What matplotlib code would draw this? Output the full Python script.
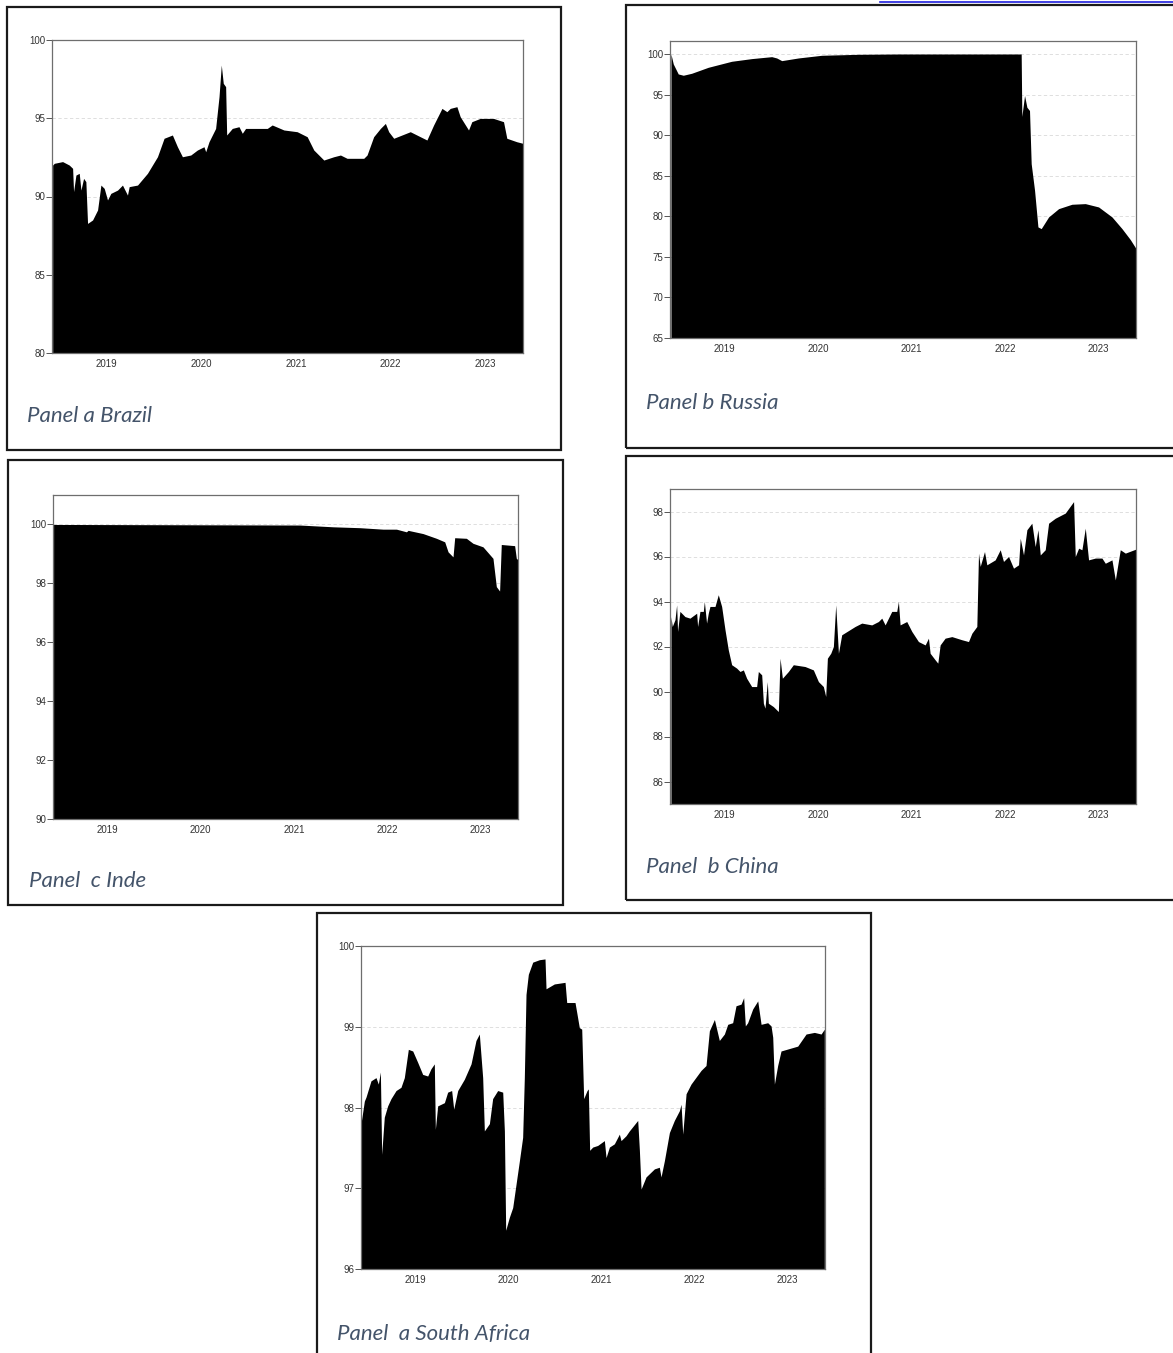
import matplotlib
matplotlib.use("Agg")
import matplotlib.pyplot as plt
from matplotlib.patches import Rectangle
from matplotlib.lines import Line2D

# ---- data (decimal years, index values) ----
brazil_t = [2018.427, 2018.444, 2018.532, 2018.602, 2018.638, 2018.648, 2018.673, 2018.708,
            2018.726, 2018.754, 2018.778, 2018.796, 2018.849, 2018.902, 2018.937, 2018.972,
            2019.007, 2019.042, 2019.113, 2019.165, 2019.218, 2019.236, 2019.324, 2019.429,
            2019.535, 2019.605, 2019.693, 2019.746, 2019.799, 2019.887, 2019.957, 2020.027,
            2020.045, 2020.080, 2020.150, 2020.186, 2020.210, 2020.231, 2020.256, 2020.267,
            2020.326, 2020.397, 2020.432, 2020.467, 2020.696, 2020.748, 2020.872, 2021.012,
            2021.118, 2021.188, 2021.294, 2021.399, 2021.470, 2021.540, 2021.716, 2021.751,
            2021.821, 2021.892, 2021.945, 2021.980, 2022.033, 2022.208, 2022.314, 2022.384,
            2022.455, 2022.543, 2022.595, 2022.631, 2022.701, 2022.736, 2022.824, 2022.859,
            2022.947, 2023.088, 2023.194, 2023.229, 2023.334, 2023.398]
brazil_v = [92.01, 92.12, 92.23, 92.01, 91.80, 90.31, 91.37, 91.48,
            90.41, 91.16, 90.95, 88.28, 88.50, 89.14, 90.73, 90.52,
            89.78, 90.20, 90.41, 90.73, 90.09, 90.63, 90.73, 91.48,
            92.54, 93.72, 93.93, 93.18, 92.54, 92.65, 92.97, 93.18,
            92.86, 93.50, 94.35, 96.38, 98.40, 97.23, 97.02, 93.93,
            94.35, 94.46, 94.04, 94.35, 94.35, 94.57, 94.25, 94.14,
            93.82, 92.97, 92.33, 92.54, 92.65, 92.44, 92.44, 92.65,
            93.82, 94.35, 94.67, 94.14, 93.72, 94.14, 93.82, 93.61,
            94.57, 95.63, 95.42, 95.63, 95.74, 95.10, 94.25, 94.78,
            94.99, 94.99, 94.78, 93.72, 93.50, 93.40]

russia_t = [2018.430, 2018.455, 2018.508, 2018.562, 2018.651, 2018.829, 2019.079, 2019.293,
            2019.507, 2019.560, 2019.614, 2019.792, 2020.041, 2020.434, 2020.861, 2022.173,
            2022.180, 2022.209, 2022.234, 2022.262, 2022.280, 2022.316, 2022.352, 2022.387,
            2022.466, 2022.573, 2022.715, 2022.858, 2023.000, 2023.143, 2023.250, 2023.339,
            2023.400]
russia_v = [100.0, 98.77, 97.54, 97.38, 97.62, 98.36, 99.10, 99.43,
            99.67, 99.51, 99.18, 99.51, 99.84, 99.96, 100.0, 100.0,
            92.30, 94.88, 93.44, 93.03, 86.48, 83.20, 78.69, 78.48,
            79.92, 80.94, 81.48, 81.56, 81.15, 79.92, 78.48, 77.13,
            76.02]

india_t = [2018.426, 2021.064, 2021.421, 2021.706, 2021.955, 2022.098, 2022.205, 2022.223,
           2022.383, 2022.526, 2022.615, 2022.651, 2022.704, 2022.722, 2022.847, 2022.918,
           2023.025, 2023.132, 2023.168, 2023.203, 2023.221, 2023.364, 2023.382, 2023.400]
india_v = [100.0, 99.98, 99.92, 99.89, 99.84, 99.84, 99.75, 99.80,
           99.69, 99.53, 99.41, 99.07, 98.90, 99.55, 99.53, 99.36,
           99.24, 98.85, 97.89, 97.74, 99.32, 99.28, 98.85, 98.80]

china_t = [2018.430, 2018.444, 2018.473, 2018.491, 2018.501, 2018.526, 2018.580, 2018.633,
           2018.705, 2018.715, 2018.740, 2018.776, 2018.787, 2018.811, 2018.829, 2018.847,
           2018.901, 2018.936, 2018.972, 2019.008, 2019.043, 2019.079, 2019.132, 2019.168,
           2019.204, 2019.239, 2019.293, 2019.346, 2019.364, 2019.400, 2019.418, 2019.435,
           2019.460, 2019.471, 2019.524, 2019.578, 2019.596, 2019.621, 2019.685, 2019.738,
           2019.863, 2019.952, 2020.006, 2020.059, 2020.084, 2020.102, 2020.138, 2020.166,
           2020.191, 2020.220, 2020.255, 2020.398, 2020.469, 2020.576, 2020.647, 2020.683,
           2020.719, 2020.790, 2020.843, 2020.861, 2020.879, 2020.950, 2021.004, 2021.075,
           2021.147, 2021.182, 2021.200, 2021.253, 2021.282, 2021.307, 2021.360, 2021.432,
           2021.539, 2021.610, 2021.646, 2021.699, 2021.717, 2021.735, 2021.781, 2021.806,
           2021.895, 2021.949, 2021.984, 2022.038, 2022.091, 2022.145, 2022.163, 2022.198,
           2022.234, 2022.287, 2022.323, 2022.352, 2022.377, 2022.430, 2022.466, 2022.537,
           2022.644, 2022.733, 2022.751, 2022.787, 2022.822, 2022.858, 2022.893, 2022.965,
           2023.036, 2023.072, 2023.143, 2023.179, 2023.232, 2023.286, 2023.400]
china_v = [93.33, 92.89, 93.19, 93.85, 92.67, 93.56, 93.33, 93.26,
           93.48, 92.89, 93.56, 93.56, 94.00, 93.04, 93.48, 93.78,
           93.78, 94.30, 93.78, 92.74, 91.85, 91.19, 91.04, 90.89,
           90.96, 90.59, 90.22, 90.22, 90.89, 90.74, 89.48, 89.26,
           90.44, 89.48, 89.33, 89.11, 91.48, 90.59, 90.89, 91.19,
           91.11, 90.96, 90.44, 90.22, 89.78, 91.48, 91.70, 92.00,
           93.85, 91.70, 92.52, 92.89, 93.04, 92.96, 93.11, 93.26,
           92.96, 93.56, 93.56, 94.00, 92.96, 93.11, 92.67, 92.22,
           92.07, 92.37, 91.70, 91.41, 91.26, 92.07, 92.37, 92.44,
           92.30, 92.22, 92.59, 92.89, 96.15, 95.56, 96.22, 95.63,
           95.85, 96.30, 95.78, 96.00, 95.48, 95.63, 96.81, 96.07,
           97.19, 97.48, 96.44, 97.19, 96.07, 96.30, 97.48, 97.70,
           97.93, 98.44, 96.00, 96.37, 96.30, 97.26, 95.85, 95.93,
           95.93, 95.70, 95.85, 94.96, 96.30, 96.15, 96.33]

safrica_t = [2018.420, 2018.456, 2018.474, 2018.527, 2018.581, 2018.606, 2018.628, 2018.642,
             2018.670, 2018.706, 2018.742, 2018.796, 2018.849, 2018.885, 2018.928, 2018.975,
             2019.028, 2019.082, 2019.136, 2019.171, 2019.207, 2019.218, 2019.243, 2019.315,
             2019.350, 2019.393, 2019.415, 2019.458, 2019.529, 2019.601, 2019.654, 2019.690,
             2019.726, 2019.744, 2019.798, 2019.833, 2019.887, 2019.941, 2019.959, 2019.973,
             2020.012, 2020.048, 2020.084, 2020.120, 2020.155, 2020.173, 2020.191, 2020.216,
             2020.263, 2020.334, 2020.395, 2020.406, 2020.495, 2020.610, 2020.628, 2020.717,
             2020.738, 2020.763, 2020.789, 2020.810, 2020.846, 2020.860, 2020.874, 2020.907,
             2020.960, 2021.032, 2021.050, 2021.086, 2021.139, 2021.193, 2021.211, 2021.264,
             2021.300, 2021.390, 2021.408, 2021.426, 2021.479, 2021.569, 2021.622, 2021.640,
             2021.676, 2021.730, 2021.783, 2021.837, 2021.855, 2021.873, 2021.909, 2021.962,
             2022.070, 2022.123, 2022.159, 2022.213, 2022.266, 2022.320, 2022.356, 2022.409,
             2022.445, 2022.499, 2022.527, 2022.545, 2022.570, 2022.624, 2022.678, 2022.714,
             2022.785, 2022.821, 2022.839, 2022.857, 2022.892, 2022.928, 2023.107, 2023.197,
             2023.286, 2023.358, 2023.393]
safrica_v = [97.80, 98.08, 98.13, 98.33, 98.37, 98.29, 98.44, 97.42,
             97.88, 98.02, 98.11, 98.21, 98.25, 98.37, 98.72, 98.70,
             98.56, 98.41, 98.39, 98.48, 98.54, 97.73, 98.02, 98.06,
             98.19, 98.21, 97.98, 98.21, 98.35, 98.54, 98.83, 98.91,
             98.37, 97.71, 97.80, 98.11, 98.21, 98.19, 97.71, 96.48,
             96.64, 96.76, 97.05, 97.34, 97.63, 98.37, 99.40, 99.65,
             99.80, 99.83, 99.84, 99.47, 99.53, 99.55, 99.30, 99.30,
             99.16, 98.99, 98.97, 98.11, 98.21, 98.23, 97.47, 97.51,
             97.53, 97.59, 97.38, 97.51, 97.55, 97.67, 97.59, 97.65,
             97.71, 97.84, 97.47, 96.99, 97.14, 97.24, 97.26, 97.14,
             97.34, 97.69, 97.84, 97.96, 98.04, 97.67, 98.17, 98.29,
             98.46, 98.52, 98.95, 99.09, 98.83, 98.91, 99.03, 99.05,
             99.26, 99.28, 99.36, 99.01, 99.05, 99.22, 99.32, 99.03,
             99.05, 99.01, 98.87, 98.29, 98.52, 98.70, 98.76, 98.91,
             98.93, 98.91, 98.97]

years = [2019, 2020, 2021, 2022, 2023]
captions = ["Panel a Brazil", "Panel b Russia", "Panel  c Inde", "Panel  b China",
            "Panel  a South Africa"]

# ---- layout (pixel boxes: left, top, right, bottom) ----
W, H = 1173, 1353
fig = plt.figure(figsize=(W / 100, H / 100), dpi=100)
fig.patch.set_facecolor("white")


def frac_rect(l, t, r, b):
    return [l / W, 1 - b / H, (r - l) / W, (b - t) / H]


panels = [
    # series, ylim, yticks, axes box, outer box, caption pos
    (brazil_t, brazil_v, (80, 100), [80, 85, 90, 95, 100],
     (52, 40, 523, 353), (7, 7, 561, 450), (27, 416)),
    (russia_t, russia_v, (65, 101.6), [65, 70, 75, 80, 85, 90, 95, 100],
     (670, 41, 1136, 338), (626, 5, 1180, 448), (646, 403)),
    (india_t, india_v, (90, 101), [90, 92, 94, 96, 98, 100],
     (53, 495, 518, 819), (8, 460, 563, 905), (29, 881)),
    (china_t, china_v, (85, 99), [86, 88, 90, 92, 94, 96, 98],
     (670, 489, 1136, 804), (626, 456, 1180, 900), (646, 867)),
    (safrica_t, safrica_v, (96, 100), [96, 97, 98, 99, 100],
     (361, 946, 825, 1269), (317, 913, 871, 1360), (337, 1334)),
]

for (t, v, ylim, yticks, axbox, outer, cap), caption in zip(panels, captions):
    # outer frame around each panel
    l, tp, r, b = outer
    fig.patches.append(Rectangle((l / W, 1 - b / H), (r - l) / W, (b - tp) / H,
                                 transform=fig.transFigure, fill=False,
                                 edgecolor="#1a1a1a", linewidth=1.6))

    ax = fig.add_axes(frac_rect(*axbox))
    ax.fill_between(t, ylim[0], v, color="black", linewidth=0, zorder=2)
    ax.set_xlim(2018.42, 2023.40)
    ax.set_ylim(*ylim)
    ax.set_yticks(yticks)
    ax.set_xticks(years)
    ax.set_xticklabels([str(y) for y in years])
    for yv in yticks:
        ax.axhline(yv, color="#d9d9d9", linewidth=0.6, linestyle=(0, (4, 3)), zorder=1)
    for s in ax.spines.values():
        s.set_color("#6e6e6e")
        s.set_linewidth(0.9)
        s.set_zorder(3)
    ax.tick_params(axis="y", length=4, width=0.7, color="#555555", pad=1,
                   labelsize=7, labelcolor="#333333")
    ax.tick_params(axis="x", length=0, pad=4, labelsize=7, labelcolor="#333333")
    for lab in ax.get_xticklabels() + ax.get_yticklabels():
        lab.set_fontfamily("Liberation Sans")

    fig.text(cap[0] / W, 1 - cap[1] / H, caption, ha="left", va="center",
             fontsize=16, style="italic", color="#44546A", family="Lato")

# cut-off hyperlink underline at the very top right
fig.lines.append(Line2D([880 / W, 1], [1 - 2 / H, 1 - 2 / H], transform=fig.transFigure,
                        color="#1f1fdd", linewidth=1.2))

fig.savefig("out.png", dpi=100)
